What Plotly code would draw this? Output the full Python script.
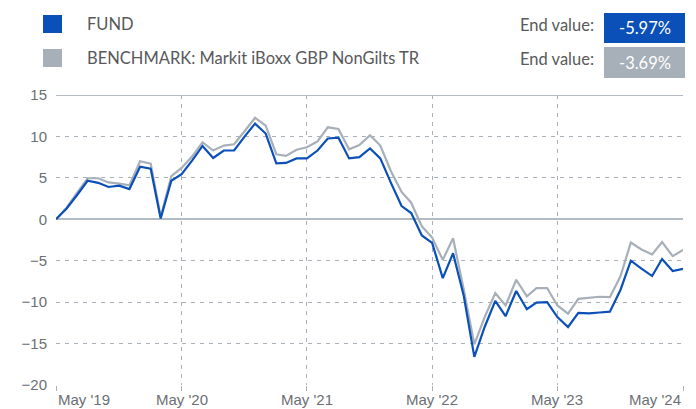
import plotly.graph_objects as go
import pandas as pd

series_names = ["FUND", "BENCHMARK: Markit iBoxx GBP NonGilts TR"]
start_month = "2019-05-01"
fund = [0.0, 1.3, 2.9, 4.65, 4.4, 3.9, 4.05, 3.65, 6.35, 6.1, 0.1, 4.65,
        5.45, 7.1, 8.85, 7.4, 8.3, 8.3, 10.0, 11.55, 10.35, 6.75, 6.8, 7.35,
        7.35, 8.3, 9.75, 9.85, 7.35, 7.5, 8.55, 7.35, 4.4, 1.6, 0.75, -1.95,
        -2.85, -7.1, -4.1, -9.2, -16.6, -13.0, -9.85, -11.7, -8.65, -10.85, -10.05, -10.0,
        -11.8, -13.0, -11.3, -11.35, -11.25, -11.15, -8.5, -5.0, -5.95, -6.85, -4.8, -6.25,
        -5.97]
bench = [0.0, 1.4, 3.2, 4.95, 4.95, 4.45, 4.3, 4.1, 7.0, 6.7, 0.3, 5.2,
         6.2, 7.6, 9.3, 8.3, 8.9, 9.05, 10.65, 12.25, 11.3, 7.85, 7.65, 8.4,
         8.7, 9.4, 11.1, 10.9, 8.45, 8.95, 10.15, 8.9, 5.8, 3.3, 2.0, -0.85,
         -2.2, -4.9, -2.3, -8.45, -15.1, -11.8, -8.9, -10.4, -7.3, -9.3, -8.3, -8.3,
         -10.4, -11.4, -9.6, -9.5, -9.35, -9.4, -6.85, -2.8, -3.65, -4.25, -2.75, -4.45,
         -3.69]
tick_dates = ["2019-05-01", "2020-05-01", "2021-05-01", "2022-05-01", "2023-05-01", "2024-05-01"]
tick_labels = ["May '19", "May '20", "May '21", "May '22", "May '23", "May '24"]
y_ticks = [-20, -15, -10, -5, 0, 5, 10, 15]

colors = ["#0a50b8", "#a7afb8"]
dates = pd.date_range(start_month, periods=len(fund), freq="MS")

W, H = 696, 409
L, R, T, B = 56, 13, 95, 24
pw, ph = W - L - R, H - T - B

def px(x):
    return (x - L) / pw

def py(y):
    return (H - B - y) / ph

fig = go.Figure()
fig.add_trace(go.Scatter(x=dates, y=bench, mode="lines", name=series_names[1],
                         line=dict(color=colors[1], width=2.2), hoverinfo="skip"))
fig.add_trace(go.Scatter(x=dates, y=fund, mode="lines", name=series_names[0],
                         line=dict(color=colors[0], width=2.2), hoverinfo="skip"))

grid = "#a9b1bb"
fig.update_layout(
    width=W, height=H,
    margin=dict(l=L, r=R, t=T, b=B, pad=0),
    paper_bgcolor="white", plot_bgcolor="white",
    showlegend=False,
    xaxis=dict(range=[tick_dates[0], tick_dates[-1]], tickvals=tick_dates,
               showticklabels=False, showgrid=True, gridcolor=grid,
               griddash="4px,5px", gridwidth=1.3, ticks="outside", ticklen=5,
               tickcolor=grid, zeroline=False, showline=False),
    yaxis=dict(range=[-20, 15], tickvals=y_ticks, showgrid=True, gridcolor=grid,
               griddash="4px,5px", gridwidth=1.3, zeroline=True,
               zerolinecolor="#b3bbc4", zerolinewidth=1.8,
               tickfont=dict(family="Liberation Sans", size=15, color="#6b6f75"),
               ticklabelstandoff=8, showline=False),
)

# top solid border
fig.add_shape(type="line", xref="paper", yref="y", x0=0, x1=1, y0=15, y1=15,
              line=dict(color="#b3bbc4", width=1.8))

# x tick labels
for i, (d, t) in enumerate(zip(tick_dates, tick_labels)):
    anchor = "left" if i == 0 else ("right" if i == len(tick_dates) - 1 else "center")
    fig.add_annotation(x=d, xref="x", y=0, yref="paper", text=t, showarrow=False,
                       xanchor=anchor, yanchor="top", yshift=-4,
                       font=dict(family="Liberation Sans", size=15, color="#6b6f75"))

# legend & end values
legend_rows = [(15, 33), (49, 67)]
box_rows = [(13, 43), (47, 78)]
end_vals = [fund[-1], bench[-1]]
for k in range(2):
    y0, y1 = legend_rows[k]
    fig.add_shape(type="rect", xref="paper", yref="paper", x0=px(43), x1=px(62),
                  y0=py(y1), y1=py(y0), fillcolor=colors[k], line=dict(width=0))
    fig.add_annotation(x=px(85), y=py((y0 + y1) / 2), xref="paper", yref="paper",
                       text=series_names[k], showarrow=False, xanchor="left", yanchor="middle",
                       font=dict(family="Lato", size=16.5, color="#58595b"))
    fig.add_annotation(x=px(596), y=py((y0 + y1) / 2 + 1), xref="paper", yref="paper",
                       text="End value:", showarrow=False, xanchor="right", yanchor="middle",
                       font=dict(family="Lato", size=16.5, color="#58595b"))
    b0, b1 = box_rows[k]
    fig.add_shape(type="rect", xref="paper", yref="paper", x0=px(604), x1=px(685),
                  y0=py(b1), y1=py(b0), fillcolor=colors[k], line=dict(width=0))
    fig.add_annotation(x=px(644.5), y=py((b0 + b1) / 2), xref="paper", yref="paper",
                       text=f"{end_vals[k]:.2f}%", showarrow=False, xanchor="center", yanchor="middle",
                       font=dict(family="Lato", size=16.5, color="white"))

fig.write_html("out.html", config={"displayModeBar": False},
               post_script="document.body.style.margin='0px';document.body.style.padding='0px';")
